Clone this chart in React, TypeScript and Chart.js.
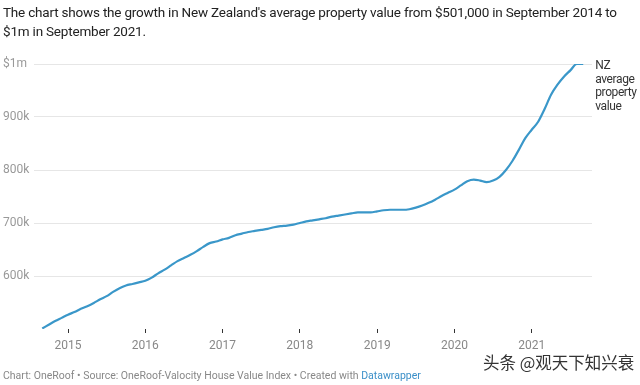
import React, { useEffect, useRef } from "react";
import { Chart, registerables } from "chart.js";

Chart.register(...registerables);

// Monthly index values, Sep 2014 .. Sep 2021 (NZ$ thousands)
const startYear = 2014;
const startMonth = 9; // September
const values = [
  501, 508, 515, 521, 527, 532, 538, 543, 549, 556, 562, 570,
  577, 582, 585, 588, 591, 597, 605, 612, 620, 628, 634, 640,
  647, 655, 662, 665, 669, 672, 677, 680, 683, 685, 687, 689,
  692, 694, 695, 697, 700, 703, 705, 707, 709, 712, 714, 716,
  718, 720, 720, 720, 722, 724, 725, 725, 725, 726, 729, 733,
  738, 744, 751, 757, 763, 771, 779, 782, 780, 777, 780, 787,
  800, 817, 838, 860, 876, 891, 915, 942, 961, 976, 988, 1000,
  1000,
];
const yearTicks = [2015, 2016, 2017, 2018, 2019, 2020, 2021];
const yTicks = [500, 600, 700, 800, 900, 1000];
const yLabels = ["", "600k", "700k", "800k", "900k", "$1m"];
const seriesLabel = ["NZ", "average", "property", "value"];
const title =
  "The chart shows the growth in New Zealand's average property value from $501,000 in September 2014 to $1m in September 2021.";

const FONT = "Roboto, 'Noto Sans', sans-serif";

export default function App() {
  const ref = useRef<HTMLCanvasElement | null>(null);

  useEffect(() => {
    if (!ref.current) return;
    const points = values.map((v, i) => ({
      x: startYear + (startMonth - 1 + i) / 12,
      y: v * 1000,
    }));

    const endLabel = {
      id: "endLabel",
      afterDatasetsDraw(chart: any) {
        const meta = chart.getDatasetMeta(0);
        const last = meta.data[meta.data.length - 1];
        if (!last) return;
        const c = chart.ctx;
        c.save();
        c.fillStyle = "#333333";
        c.font = `12px ${FONT}`;
        try {
          (c as any).letterSpacing = "-0.4px";
        } catch (e) {}
        c.textAlign = "left";
        c.textBaseline = "middle";
        seriesLabel.forEach((t, i) => {
          c.fillText(t, last.x + 12, last.y + 2 + i * 13.7);
        });
        c.restore();
      },
    };

    const chart = new Chart(ref.current, {
      type: "line",
      data: {
        datasets: [
          {
            data: points,
            borderColor: "#3a97c9",
            borderWidth: 2.2,
            pointRadius: 0,
            cubicInterpolationMode: "monotone",
            fill: false,
          },
        ],
      },
      options: {
        animation: false,
        responsive: false,
        maintainAspectRatio: false,
        layout: { padding: { top: 64, left: 3, right: 48, bottom: 16 } },
        plugins: { legend: { display: false }, tooltip: { enabled: false } },
        scales: {
          x: {
            type: "linear",
            min: 2014.56,
            max: 2021.78,
            afterBuildTicks: (s: any) => {
              s.ticks = yearTicks.map((v) => ({ value: v }));
            },
            afterFit: (s: any) => {
              s.height = 40;
            },
            border: { display: false },
            grid: {
              display: true,
              drawOnChartArea: false,
              drawTicks: true,
              tickLength: 4,
              color: "#333333",
              lineWidth: 1,
            },
            ticks: {
              padding: 6,
              color: "#888888",
              font: { family: FONT, size: 12 },
              callback: (v: any) => String(v),
              maxRotation: 0,
              autoSkip: false,
            },
          },
          y: {
            min: 500000,
            max: 1000000,
            afterBuildTicks: (s: any) => {
              s.ticks = yTicks.map((v) => ({ value: v * 1000 }));
            },
            afterFit: (s: any) => {
              s.width = 31;
            },
            border: { display: false },
            grid: {
              drawTicks: false,
              color: (ctx: any) =>
                ctx.tick && ctx.tick.value === 500000 ? "rgba(0,0,0,0)" : "#e6e6e6",
              lineWidth: 1,
            },
            ticks: {
              crossAlign: "far",
              color: "#999999",
              font: { family: FONT, size: 12 },
              callback: (v: any) => {
                const idx = yTicks.indexOf(Math.round(Number(v) / 1000));
                return idx >= 0 ? yLabels[idx] : "";
              },
            },
          },
        },
      },
      plugins: [endLabel],
    } as any);
    return () => chart.destroy();
  }, []);

  return (
    <div
      style={{
        position: "fixed",
        left: 0,
        top: 0,
        width: 640,
        height: 385,
        background: "#ffffff",
        overflow: "hidden",
        fontFamily: FONT,
      }}
    >
      <canvas
        ref={ref}
        width={640}
        height={385}
        style={{ position: "absolute", left: 0, top: 0, width: 640, height: 385 }}
      />
      <div
        style={{
          position: "absolute",
          left: 3,
          top: 3,
          width: 634,
          fontSize: 13.5,
          letterSpacing: "-0.2px",
          lineHeight: "19px",
          color: "#222222",
        }}
      >
        {title}
      </div>
      <div
        style={{
          position: "absolute",
          left: 483,
          top: 352,
          fontSize: 16.5,
          lineHeight: "20px",
          color: "#333333",
          fontFamily: "'Noto Sans CJK SC', sans-serif",
          whiteSpace: "nowrap",
        }}
      >
        头条 @观天下知兴衰
      </div>
      <div
        style={{
          position: "absolute",
          left: 3,
          top: 369,
          fontSize: 10.5,
          lineHeight: "14px",
          color: "#888888",
          whiteSpace: "nowrap",
        }}
      >
        Chart: OneRoof • Source: OneRoof-Valocity House Value Index • Created with{" "}
        <span style={{ color: "#3a8fc8" }}>Datawrapper</span>
      </div>
    </div>
  );
}
